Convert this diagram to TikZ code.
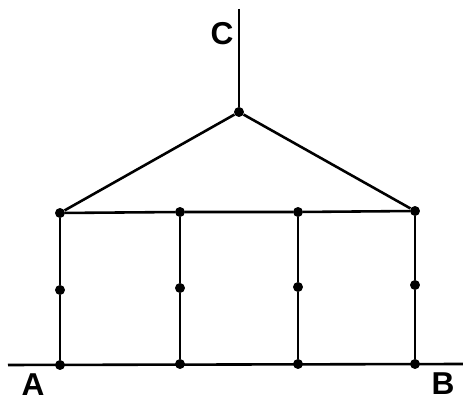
\documentclass[tikz,border=0pt]{standalone}
\usepackage{fontspec}
\setsansfont{Liberation Sans}
\tikzset{
dotnode/.style={circle,fill=black,inner sep=0pt,minimum size=8.5pt},
edge/.style={line width=2.2pt},
endlabel/.style={font=\sffamily\bfseries\fontsize{27}{27}\selectfont}
}
\begin{document}
\begin{tikzpicture}[x=0.03cm,y=-0.03cm]
\useasboundingbox (0,0) rectangle (463,401);
% vertices
\node[dotnode] (c) at (239,112) {};
\node[dotnode] (tl) at (60,213) {};
\node[dotnode] (t2) at (180,212) {};
\node[dotnode] (t3) at (298,212) {};
\node[dotnode] (tr) at (415,211) {};
\node[dotnode] (m1) at (60,290) {};
\node[dotnode] (m2) at (180,288) {};
\node[dotnode] (m3) at (298,287) {};
\node[dotnode] (m4) at (415,285) {};
\node[dotnode] (b1) at (60,365) {};
\node[dotnode] (b2) at (180,364) {};
\node[dotnode] (b3) at (298,364) {};
\node[dotnode] (b4) at (415,364) {};
\coordinate (ctop) at (239,9);
\coordinate (bl) at (8,365);
\coordinate (br) at (463,364);
% labels
\node[endlabel] (lc) at (222,34) {C};
\node[endlabel] (la) at (33,385) {A};
\node[endlabel] (lb) at (443,384) {B};
% edges
\draw[edge] (ctop) -- (c);
\draw[edge] (c) -- (tl);
\draw[edge] (c) -- (tr);
\draw[edge] (tl) -- (t2) -- (t3) -- (tr);
\draw[edge] (tl) -- (m1) -- (b1);
\draw[edge] (t2) -- (m2) -- (b2);
\draw[edge] (t3) -- (m3) -- (b3);
\draw[edge] (tr) -- (m4) -- (b4);
\draw[edge] (bl) -- (br);
\end{tikzpicture}
\end{document}
